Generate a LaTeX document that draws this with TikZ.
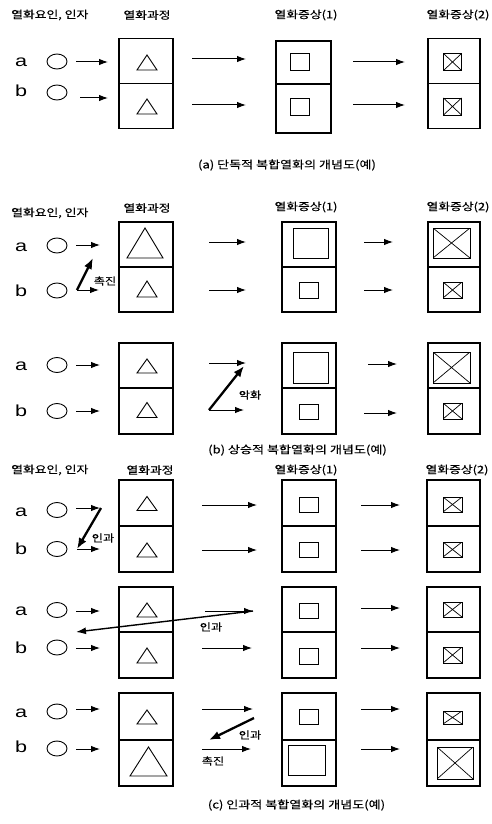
\documentclass[tikz,border=0pt]{standalone}
\usepackage{fontspec}
\setmainfont{Noto Sans CJK KR}[FakeStretch=1.22, FakeBold=0.3]
\newfontfamily\latinf{Liberation Sans}[FakeStretch=1.35]
\usetikzlibrary{arrows.meta,shapes.geometric}

\tikzset{
  cell/.style={draw, line width=1.2pt, inner sep=0pt},
  shp/.style={line width=0.9pt},
  sq/.style={draw, line width=0.9pt, inner sep=0pt},
  xsq/.style={sq, path picture={\draw[line width=0.7pt]
      (path picture bounding box.north west) -- (path picture bounding box.south east)
      (path picture bounding box.north east) -- (path picture bounding box.south west);}},
  arr/.style={line width=1pt, -{Latex[length=9pt,width=6.5pt]}},
  thickarr/.style={line width=2.3pt, -{Latex[length=11pt,width=8.5pt]}},
  hdr/.style={font=\fontsize{10.5}{12}\selectfont, inner sep=0pt},
  captxt/.style={font=\fontsize{10.7}{12}\selectfont, inner sep=0pt},
  lbl/.style={font=\fontsize{10}{12}\selectfont, inner sep=0pt},
  letr/.style={font=\latinf\fontsize{16}{18}\selectfont, inner sep=0pt, anchor=base west},
  circ/.style={draw, ellipse, line width=0.9pt, minimum width=20pt, minimum height=15pt, inner sep=0pt},
}

% helpers
\newcommand\mycell[5]{\node[cell, minimum height=#4pt, minimum width=#5pt] (#1) at (#2,#3) {};}
\newcommand\mytri[5]{\coordinate (#1) at (#2,#3);
  \draw[shp] (#2-#4,#3+#5/2) -- (#2+#4,#3+#5/2) -- (#2,#3-#5/2) -- cycle;}
\newcommand\mysq[5]{\node[sq, minimum width=#4pt, minimum height=#5pt] (#1) at (#2,#3) {};}
\newcommand\myxsq[5]{\node[xsq, minimum width=#4pt, minimum height=#5pt] (#1) at (#2,#3) {};}
\newcommand\myarw[4]{\coordinate (#1s) at (#2,#3); \coordinate (#1e) at (#4,#3);
  \draw[arr] (#1s) -- (#1e);}

\begin{document}
\begin{tikzpicture}[x=1pt,y=-1pt]
\useasboundingbox (0,0) rectangle (492,824);
\fill[white] (0,0) rectangle (492,824);

% ================= (a) =================
\node[hdr, anchor=west] (ha0) at (11,15) {열화요인, 인자};
\node[hdr] (ha1) at (147,15) {열화과정};
\node[hdr] (ha2) at (306,15) {열화증상(1)};
\node[hdr] (ha3) at (458,15) {열화증상(2)};

\mycell{a1t}{146}{61}{45}{54} \mycell{a1b}{146}{106}{45}{54}
\mycell{a2t}{303.5}{62.5}{43}{55} \mycell{a2b}{303.5}{108.5}{49}{55}
\mycell{a3t}{454}{61}{45}{52} \mycell{a3b}{454}{106}{45}{52}

\mytri{ta1}{147}{62.5}{10}{15} \mytri{ta2}{147}{106.5}{10}{15}
\mysq{sa1}{299.7}{61.5}{19}{17} \mysq{sa2}{299.7}{106.5}{19}{17}
\myxsq{xa1}{452.5}{62}{18}{17} \myxsq{xa2}{452.5}{106.5}{18}{17}

\node[letr] (la1) at (15,67) {a};
\node[letr] (la2) at (15,97) {b};
\node[circ] (ca1) at (57,61.5) {};
\node[circ] (ca2) at (57,92.5) {};

\myarw{aa1}{76}{62}{108} \myarw{aa2}{80}{98}{108}
\myarw{ab1}{192}{59}{246} \myarw{ab2}{192}{105}{246}
\myarw{ac1}{353}{62}{405} \myarw{ac2}{353}{105}{405}

\node[captxt] (capa) at (287,165) {(a) 단독적 복합열화의 개념도(예)};

% ================= (b) =================
\node[hdr, anchor=west] (hb0) at (11,213) {열화요인, 인자};
\node[hdr] (hb1) at (147,208) {열화과정};
\node[hdr] (hb2) at (306,207) {열화증상(1)};
\node[hdr] (hb3) at (458,207) {열화증상(2)};

\mycell{b1t}{146}{244.5}{45}{54} \mycell{b1b}{146}{289.5}{45}{54}
\mycell{b2t}{309}{244.5}{45}{54} \mycell{b2b}{309}{289.5}{45}{54}
\mycell{b3t}{454}{244.5}{45}{52} \mycell{b3b}{454}{289.5}{45}{52}

\mytri{tb1}{145}{243}{18}{30} \mytri{tb2}{147}{289}{10}{16}
\mysq{sb1}{310.5}{243}{35}{30} \mysq{sb2}{308.5}{290}{19}{16}
\myxsq{xb1}{451.5}{243}{37}{30} \myxsq{xb2}{452.5}{290}{19}{16}

\node[letr] (lb1) at (15,251) {a};
\node[letr] (lb2) at (15,296) {b};
\node[circ] (cb1) at (57,245.5) {};
\node[circ] (cb2) at (57,290.5) {};

\myarw{ba1}{76}{245}{100} \myarw{ba2}{77}{290}{99}
\coordinate (bk1) at (93,258);
\draw[thickarr] (ba2s) -- (bk1);
\node[lbl] (lbk) at (105,281) {촉진};
\myarw{bb1}{209}{242}{246} \myarw{bb2}{209}{290}{246}
\myarw{bc1}{364}{242}{393} \myarw{bc2}{364}{290}{393}

% (b) second
\mycell{d1t}{146}{365.5}{45}{54} \mycell{d1b}{146}{411}{46}{54}
\mycell{d2t}{309}{365.5}{45}{54} \mycell{d2b}{309}{411}{46}{54}
\mycell{d3t}{454}{365.5}{45}{52} \mycell{d3b}{454}{411}{46}{52}

\mytri{td1}{147}{366}{10}{14} \mytri{td2}{147}{410}{10}{15}
\mysq{sd1}{310.5}{367.5}{35}{31} \mysq{sd2}{308.5}{411.5}{19}{15}
\myxsq{xd1}{451.5}{367.5}{37}{31} \myxsq{xd2}{452.5}{411}{19}{16}

\node[letr] (ld1) at (15,370) {a};
\node[letr] (ld2) at (15,416) {b};
\node[circ] (cd1) at (57,365) {};
\node[circ] (cd2) at (57,411) {};

\myarw{da1}{76}{365}{100} \myarw{da2}{76}{411}{100}
\myarw{db1}{209}{363}{246} \myarw{db2}{209}{410}{244}
\coordinate (dk1) at (244,366);
\draw[thickarr] (db2s) -- (dk1);
\node[lbl] (ldk) at (250,395) {악화};
\myarw{dc1}{368}{364}{397} \myarw{dc2}{364}{413}{397}

\node[captxt] (capb) at (297.5,450) {(b) 상승적 복합열화의 개념도(예)};

% ================= (c) =================
\node[hdr, anchor=west] (hc0) at (11,470) {열화요인, 인자};
\node[hdr] (hc1) at (150,470) {열화과정};
\node[hdr] (hc2) at (306,470) {열화증상(1)};
\node[hdr] (hc3) at (457,470) {열화증상(2)};

\mycell{c1t}{146}{503}{46}{54} \mycell{c1b}{146}{549}{46}{54}
\mycell{c2t}{309}{503}{46}{54} \mycell{c2b}{309}{549}{46}{54}
\mycell{c3t}{453.5}{503}{46}{53} \mycell{c3b}{453.5}{549}{46}{53}

\mytri{tc1}{147}{503.5}{10}{14} \mytri{tc2}{147}{550}{10}{14}
\mysq{sc1}{308.5}{504.5}{19}{15} \mysq{sc2}{308.5}{549.5}{19}{15}
\myxsq{xc1}{452.5}{504.5}{19}{15} \myxsq{xc2}{452.5}{549.5}{19}{15}

\node[letr] (lc1) at (15,516) {a};
\node[letr] (lc2) at (15,554) {b};
\node[circ] (cc1) at (57,510) {};
\node[circ] (cc2) at (57,549) {};

\myarw{ca1}{76}{508}{100} \myarw{ca2}{77}{549}{100}
\coordinate (ck0) at (101,508);
\draw[thickarr] (ck0) -- (ca2s);
\node[lbl] (lck) at (103,538) {인과};
\myarw{cb1}{202}{505}{257} \myarw{cb2}{202}{550}{257}
\myarw{cc1}{361}{505}{400} \myarw{cc2}{361}{550}{400}

% (c) second
\mycell{e1t}{146}{609.5}{45}{54} \mycell{e1b}{146}{655}{46}{54}
\mycell{e2t}{309}{609.5}{45}{54} \mycell{e2b}{309}{655}{46}{54}
\mycell{e3t}{453.5}{609.5}{45}{53} \mycell{e3b}{453.5}{655}{46}{53}

\mytri{te1}{147}{610}{10}{14} \mytri{te2}{147}{655.5}{10}{15}
\mysq{se1}{308.5}{610.5}{19}{15} \mysq{se2}{308.5}{656}{19}{16}
\myxsq{xe1}{452.5}{609.5}{19}{15} \myxsq{xe2}{452.5}{655}{19}{16}

\node[letr] (le1) at (15,615) {a};
\node[letr] (le2) at (15,653) {b};
\node[circ] (ce1) at (57,610) {};
\node[circ] (ce2) at (57,647.5) {};

\myarw{ea1}{76}{611}{100} \myarw{ea2}{76}{648}{100}
\myarw{eb1}{205}{611}{253} \myarw{eb2}{202}{648}{252}
\coordinate (ek1) at (76,632);
\draw[line width=1.4pt, -{Latex[length=10pt,width=7pt]}] (eb1e) -- (ek1);
\node[lbl] (lek) at (211,627) {인과};
\myarw{ec1}{361}{608}{400} \myarw{ec2}{361}{648}{400}

% (c) third
\mycell{f1t}{146}{716.5}{47}{54} \mycell{f1b}{146}{763}{46}{54}
\mycell{f2t}{309}{716.5}{47}{54} \mycell{f2b}{309}{763}{46}{54}
\mycell{f3t}{453.5}{716.5}{47}{53} \mycell{f3b}{453.5}{763}{46}{53}

\mytri{tf1}{147}{717}{10}{14} \mytri{tf2}{148.5}{761.5}{18.5}{29}
\mysq{sf1}{308.5}{716.5}{19}{15} \mysq{sf2}{306.5}{760}{37}{30}
\myxsq{xf1}{452.5}{717.5}{19}{13} \myxsq{xf2}{455}{763}{36}{32}

\node[letr] (lf1) at (15,717) {a};
\node[letr] (lf2) at (15,752) {b};
\node[circ] (cf1) at (57,711.5) {};
\node[circ] (cf2) at (57,748.5) {};

\myarw{fa1}{76}{709}{100} \myarw{fa2}{76}{749}{100}
\myarw{fb1}{202}{709}{253} \myarw{fb2}{202}{749}{251}
\coordinate (fk0) at (254,718);
\coordinate (fk1) at (209,740);
\draw[thickarr] (fk0) -- (fk1);
\node[lbl] (lfk1) at (250,735) {인과};
\node[lbl] (lfk2) at (213,761) {촉진};
\myarw{fc1}{361}{709}{400} \myarw{fc2}{361}{749}{400}

\node[captxt] (capc) at (296.5,805) {(c) 인과적 복합열화의 개념도(예)};
\end{tikzpicture}
\end{document}
